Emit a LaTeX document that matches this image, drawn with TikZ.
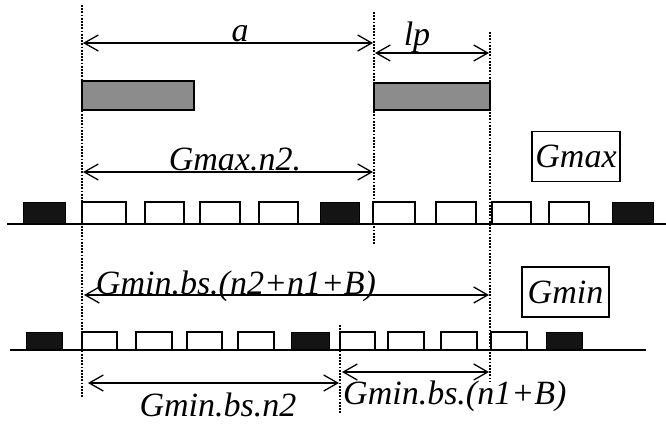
\documentclass[tikz,border=0pt]{standalone}
\usepackage{fontspec}
\setmainfont{Liberation Serif}
\usetikzlibrary{arrows.meta}
\begin{document}
\begin{tikzpicture}[x=1pt,y=-1pt,
  lbl/.style={font=\fontsize{34}{40}\selectfont\itshape, inner sep=0pt, anchor=base},
  dimarrow/.style={line width=1.3pt, {Straight Barb[length=14pt,width=16pt,line width=1.3pt]}-{Straight Barb[length=14pt,width=16pt,line width=1.3pt]}},
  guide/.style={line width=2pt, dash pattern=on 1.8pt off 1.4pt},
  whiteslot/.style={draw=black, line width=1.6pt, fill=white},
  blackslot/.style={draw=black, line width=1pt, fill=black!92},
  graybar/.style={draw=black, line width=1.1pt, fill=black!45},
  tagbox/.style={draw=black, line width=1.3pt, inner sep=0pt, minimum width=88pt, minimum height=50pt, font=\fontsize{34}{40}\selectfont\itshape}]
\useasboundingbox (0,0) rectangle (666,425);

% guide line ends
\coordinate (g1t) at (82,5);   \coordinate (g1b) at (82,397);
\coordinate (g2t) at (374,12); \coordinate (g2b) at (374,245);
\coordinate (g3t) at (490,32); \coordinate (g3b) at (490,382);
\coordinate (g4t) at (340,325);\coordinate (g4b) at (340,413);
\draw[guide] (g1t) -- (g1b);
\draw[guide] (g2t) -- (g2b);
\draw[guide] (g3t) -- (g3b);
\draw[guide] (g4t) -- (g4b);

% gray bars
\draw[graybar] (82,81) rectangle (194,110);
\draw[graybar] (374,83) rectangle (490,110);

% top slot row
\foreach \xa/\xb in {82/126,145/184,200/240,259/298,373/415,436/476,492/531,549/589}
  \draw[whiteslot] (\xa,224) rectangle (\xb,202);
\foreach \xa/\xb in {23/65,320/359,612/653}
  \draw[blackslot] (\xa,224) rectangle (\xb,202);
\coordinate (l1a) at (7,224); \coordinate (l1b) at (666,224);
\draw[line width=2pt] (l1a) -- (l1b);

% bottom slot row
\foreach \xa/\xb in {82/117,136/172,187/222,238/274,340/375,388/424,441/477,491/527}
  \draw[whiteslot] (\xa,350) rectangle (\xb,332);
\foreach \xa/\xb in {26/62,291/329,546/582}
  \draw[blackslot] (\xa,350) rectangle (\xb,332);
\coordinate (l2a) at (10,350); \coordinate (l2b) at (646,350);
\draw[line width=2pt] (l2a) -- (l2b);

% dimension arrows
\coordinate (aL) at (83,43);   \coordinate (aR) at (373,43);
\coordinate (lpL) at (375,53); \coordinate (lpR) at (489,53);
\coordinate (gxL) at (83,172); \coordinate (gxR) at (373,172);
\coordinate (gtL) at (84,295); \coordinate (gtR) at (489,295);
\coordinate (gnL) at (88,383); \coordinate (gnR) at (339,383);
\coordinate (gbL) at (342,372);\coordinate (gbR) at (489,372);
\draw[dimarrow] (aL) -- (aR);
\draw[dimarrow] (lpL) -- (lpR);
\draw[dimarrow] (gxL) -- (gxR);
\draw[dimarrow] (gtL) -- (gtR);
\draw[dimarrow] (gnL) -- (gnR);
\draw[dimarrow] (gbL) -- (gbR);

% labels
\node[lbl] (la) at (240,42) {a};
\node[lbl] (llp) at (417,46) {lp};
\node[lbl] (lgx) at (235,170) {Gmax.n2.};
\node[lbl] (lgt) at (236,294) {Gmin.bs.(n2+n1+B)};
\node[lbl] (lgn) at (218,416) {Gmin.bs.n2};
\node[lbl, anchor=base west] (lgb) at (343,404) {Gmin.bs.(n1+B)};

% tag boxes
\node[tagbox] (gmax) at (576,156.5) {Gmax};
\node[tagbox, minimum width=87pt] (gmin) at (565.5,292) {Gmin};
\end{tikzpicture}
\end{document}
